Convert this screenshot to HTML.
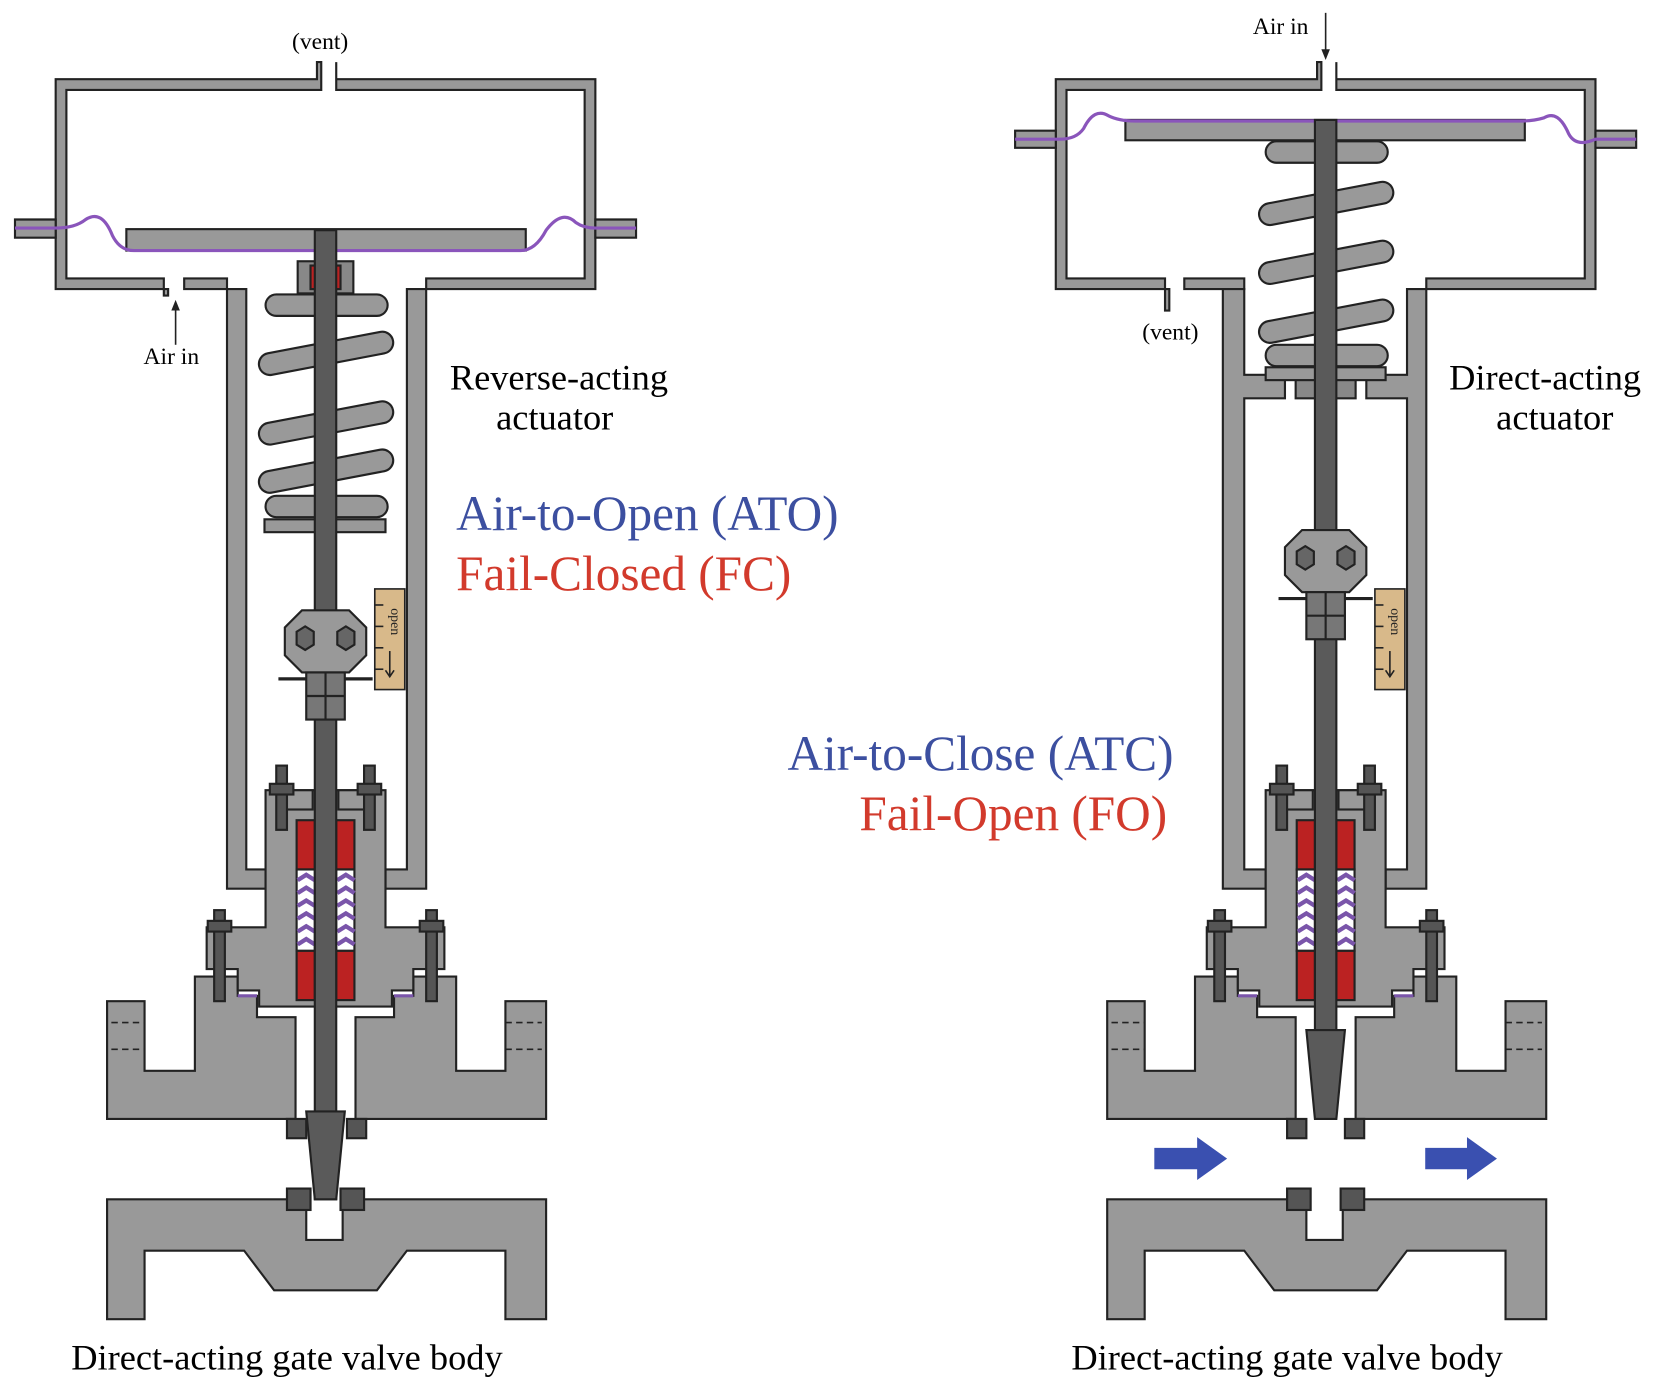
<!DOCTYPE html>
<html><head><meta charset="utf-8"><style>
html,body{margin:0;padding:0;background:#fff;}
svg{display:block;}
text{font-family:"Liberation Serif",serif;}
</style></head><body>
<svg width="1679" height="1392" viewBox="0 0 1568 1300" preserveAspectRatio="none" xmlns="http://www.w3.org/2000/svg">
<defs>
<g id="body" stroke="#222" stroke-width="2">
  <polygon fill="#999" points="100,935 135,935 135,1000 182,1000 182,912 222,912 222,930 240,930 240,950 276,950 276,1045 100,1045"/>
  <polygon fill="#999" points="510,935 472,935 472,1000 426,1000 426,912 386,912 386,930 368,930 368,950 332,950 332,1045 510,1045"/>
  <g stroke-dasharray="6,4" stroke-width="1.5"><line x1="104" y1="955" x2="135" y2="955"/><line x1="104" y1="980" x2="135" y2="980"/><line x1="472" y1="955" x2="506" y2="955"/><line x1="472" y1="980" x2="506" y2="980"/>
  <line x1="104" y1="1188" x2="135" y2="1188"/><line x1="104" y1="1213" x2="135" y2="1213"/><line x1="472" y1="1188" x2="506" y2="1188"/><line x1="472" y1="1213" x2="506" y2="1213"/></g>
  <polygon fill="#999" points="100,1120 286,1120 286,1158 320,1158 320,1120 510,1120 510,1232 472,1232 472,1168 380,1168 352,1205 256,1205 228,1168 135,1168 135,1232 100,1232"/>
  <polygon fill="#999" points="193,866 248,866 248,738 360,738 360,866 415,866 415,905 386,905 386,925 366,925 366,940 242,940 242,925 222,925 222,905 193,905"/>
  <rect x="262" y="738" width="30" height="18" fill="#999"/><rect x="316" y="738" width="30" height="18" fill="#999"/>
  <rect x="277" y="766" width="17" height="46" fill="#b22"/><rect x="314" y="766" width="17" height="46" fill="#b22"/>
  <rect x="277" y="812" width="17" height="76" fill="#fff"/><rect x="314" y="812" width="17" height="76" fill="#fff"/>
  <g fill="none" stroke="#7a55aa" stroke-width="4">
    <path d="M278,822 l8,-5 l8,5 M278,834 l8,-5 l8,5 M278,846 l8,-5 l8,5 M278,858 l8,-5 l8,5 M278,870 l8,-5 l8,5 M278,882 l8,-5 l8,5"/>
    <path d="M315,822 l8,-5 l8,5 M315,834 l8,-5 l8,5 M315,846 l8,-5 l8,5 M315,858 l8,-5 l8,5 M315,870 l8,-5 l8,5 M315,882 l8,-5 l8,5"/>
  </g>
  <rect x="277" y="888" width="17" height="46" fill="#b22"/><rect x="314" y="888" width="17" height="46" fill="#b22"/>
  <g fill="#555"><rect x="258" y="715" width="10" height="60"/><rect x="340" y="715" width="10" height="60"/>
  <rect x="200" y="850" width="10" height="85"/><rect x="398" y="850" width="10" height="85"/>
  <rect x="252" y="732" width="22" height="10"/><rect x="334" y="732" width="22" height="10"/>
  <rect x="194" y="860" width="22" height="10"/><rect x="392" y="860" width="22" height="10"/></g>
  <line x1="222" y1="930" x2="240" y2="930" stroke="#7a55aa" stroke-width="3"/><line x1="368" y1="930" x2="386" y2="930" stroke="#7a55aa" stroke-width="3"/>
</g>
<g id="ind" stroke="#222" stroke-width="1.5">
  <rect x="0" y="0" width="28" height="94" fill="#d8b98a"/>
  <line x1="0" y1="15" x2="8" y2="15"/><line x1="0" y1="35" x2="8" y2="35"/><line x1="0" y1="55" x2="8" y2="55"/><line x1="0" y1="75" x2="8" y2="75"/>
  <text x="0" y="0" font-size="13" stroke="none" fill="#222" transform="translate(15,18) rotate(90)">open</text>
  <line x1="14" y1="58" x2="14" y2="82"/><path d="M10,76 l4,6 l4,-6" fill="none"/>
</g>
<g id="conn" stroke="#222" stroke-width="2">
  <polygon fill="#999" points="-22,0 22,0 38,16 38,42 22,58 -22,58 -38,42 -38,16"/>
  <polygon fill="#666" points="-27,20 -19,15 -11,20 -11,32 -19,37 -27,32"/>
  <polygon fill="#666" points="11,20 19,15 27,20 27,32 19,37 11,32"/>
  <line x1="-44" y1="64" x2="44" y2="64" stroke-width="3"/>
  <rect x="-18" y="58" width="36" height="44" fill="#777"/>
  <line x1="-18" y1="80" x2="18" y2="80"/><line x1="0" y1="58" x2="0" y2="102"/>
</g>
</defs>

<!-- LEFT -->
<g stroke="#222" stroke-width="2" fill="#999">
  <path d="M52,74 H296 V58 H300 V84 H62 V260 H153 V276 H157 V270 H52 Z M314,58 V74 H556 V270 H398 V260 H546 V84 H314 Z" />
  <path d="M172,270 V260 H212 V270 Z" />
  <polygon points="14,205 52,205 52,222 14,222"/><polygon points="556,205 594,205 594,222 556,222"/>
  <polygon points="212,270 230,270 230,812 248,812 248,830 212,830"/>
  <polygon points="380,270 398,270 398,830 360,830 360,812 380,812"/>
  <rect x="118" y="214" width="373" height="20"/>
</g>
<path d="M14,213 H52 Q70,213 80,205 Q95,195 105,220 Q112,234 125,234 H486 Q500,234 510,215 Q525,195 538,208 Q545,213 556,213 H594" fill="none" stroke="#8a55bb" stroke-width="3"/>
<use href="#body"/>
<g stroke="#222" stroke-width="2" fill="#999">
  <rect x="278" y="244" width="52" height="30" fill="#888"/><rect x="290" y="248" width="28" height="22" fill="#b22"/>
  <rect x="247" y="485" width="113" height="12"/>
  <path d="M258,275 H352 a10,10 0 0 1 0,20 H258 a10,10 0 0 1 0,-20 Z"/>
  <path d="M250,330 L355,310 a10,10 0 0 1 4,20 L254,350 a10,10 0 0 1 -4,-20 Z"/>
  <path d="M250,395 L355,375 a10,10 0 0 1 4,20 L254,415 a10,10 0 0 1 -4,-20 Z"/>
  <path d="M250,440 L355,420 a10,10 0 0 1 4,20 L254,460 a10,10 0 0 1 -4,-20 Z"/>
  <path d="M258,463 H352 a10,10 0 0 1 0,20 H258 a10,10 0 0 1 0,-20 Z"/>
  <rect x="294" y="215" width="20" height="905" fill="#5a5a5a"/>
  <polygon points="286,1038 322,1038 314,1120 294,1120" fill="#5a5a5a"/>
  <rect x="268" y="1045" width="18" height="18" fill="#555"/><rect x="324" y="1045" width="18" height="18" fill="#555"/>
  <rect x="268" y="1110" width="22" height="20" fill="#555"/><rect x="318" y="1110" width="22" height="20" fill="#555"/>
</g>
<use href="#conn" transform="translate(304,570)"/>
<use href="#ind" transform="translate(350,550)"/>
<line x1="164" y1="322" x2="164" y2="282" stroke="#222" stroke-width="1.5"/><path d="M160,290 l4,-10 l4,10z" fill="#222"/>
<text x="299" y="46" font-size="22" text-anchor="middle">(vent)</text>
<text x="160" y="340" font-size="22" text-anchor="middle">Air in</text>
<text x="522" y="364" font-size="34" text-anchor="middle">Reverse-acting</text>
<text x="518" y="401" font-size="34" text-anchor="middle">actuator</text>
<text x="426" y="495" font-size="46" fill="#3c4fa0">Air-to-Open (ATO)</text>
<text x="426" y="551" font-size="46" fill="#d23a2c">Fail-Closed (FC)</text>
<text x="268" y="1279" font-size="34" text-anchor="middle">Direct-acting gate valve body</text>

<!-- RIGHT -->
<g stroke="#222" stroke-width="2" fill="#999">
  <path d="M986,74 H1230 V58 H1234 V84 H996 V260 H1088 V290 H1092 V270 H986 Z M1248,58 V74 H1490 V270 H1332 V260 H1480 V84 H1248 Z"/>
  <path d="M1106,270 V260 H1162 V270 Z"/>
  <polygon points="948,122 986,122 986,138 948,138"/><polygon points="1490,122 1528,122 1528,138 1490,138"/>
  <polygon points="1142,270 1162,270 1162,350 1200,350 1200,372 1162,372 1162,812 1182,812 1182,830 1142,830"/>
  <polygon points="1332,270 1314,270 1314,350 1276,350 1276,372 1314,372 1314,812 1294,812 1294,830 1332,830"/>
  <rect x="1210" y="345" width="56" height="27" fill="#888"/>
  <rect x="1051" y="112" width="373" height="19"/>
  <rect x="1182" y="343" width="112" height="12"/>
  <path d="M1192,132 H1286 a10,10 0 0 1 0,20 H1192 a10,10 0 0 1 0,-20 Z"/>
  <path d="M1184,190 L1289,170 a10,10 0 0 1 4,20 L1188,210 a10,10 0 0 1 -4,-20 Z"/>
  <path d="M1184,245 L1289,225 a10,10 0 0 1 4,20 L1188,265 a10,10 0 0 1 -4,-20 Z"/>
  <path d="M1184,300 L1289,280 a10,10 0 0 1 4,20 L1188,320 a10,10 0 0 1 -4,-20 Z"/>
  <path d="M1192,322 H1286 a10,10 0 0 1 0,20 H1192 a10,10 0 0 1 0,-20 Z"/>
</g>
<path d="M948,130 H990 Q1005,130 1012,120 Q1022,100 1035,108 Q1045,113 1060,113 H1420 Q1432,113 1442,110 Q1455,102 1465,125 Q1472,138 1490,130 H1528" fill="none" stroke="#8a55bb" stroke-width="3"/>
<use href="#body" transform="translate(934,0)"/>
<g stroke="#222" stroke-width="2">
  <rect x="1228" y="112" width="20" height="850" fill="#5a5a5a"/>
  <polygon points="1220,962 1256,962 1248,1045 1228,1045" fill="#5a5a5a"/>
  <rect x="1202" y="1045" width="18" height="18" fill="#555"/><rect x="1256" y="1045" width="18" height="18" fill="#555"/>
  <rect x="1202" y="1110" width="22" height="20" fill="#555"/><rect x="1252" y="1110" width="22" height="20" fill="#555"/>
</g>
<use href="#conn" transform="translate(1238,495)"/>
<use href="#ind" transform="translate(1284,550)"/>
<g fill="#3a50b0"><polygon points="1078,1072 1118,1072 1118,1062 1146,1082 1118,1102 1118,1092 1078,1092"/>
<polygon points="1331,1072 1370,1072 1370,1062 1398,1082 1370,1102 1370,1092 1331,1092"/></g>
<line x1="1238" y1="12" x2="1238" y2="52" stroke="#222" stroke-width="1.5"/><path d="M1234,46 l4,10 l4,-10z" fill="#222"/>
<text x="1196" y="32" font-size="22" text-anchor="middle">Air in</text>
<text x="1093" y="317" font-size="22" text-anchor="middle">(vent)</text>
<text x="1443" y="364" font-size="34" text-anchor="middle">Direct-acting</text>
<text x="1452" y="401" font-size="34" text-anchor="middle">actuator</text>
<text x="1096" y="719" font-size="46" fill="#3c4fa0" text-anchor="end">Air-to-Close (ATC)</text>
<text x="1090" y="775" font-size="46" fill="#d23a2c" text-anchor="end">Fail-Open (FO)</text>
<text x="1202" y="1279" font-size="34" text-anchor="middle">Direct-acting gate valve body</text>
</svg>
</body></html>
